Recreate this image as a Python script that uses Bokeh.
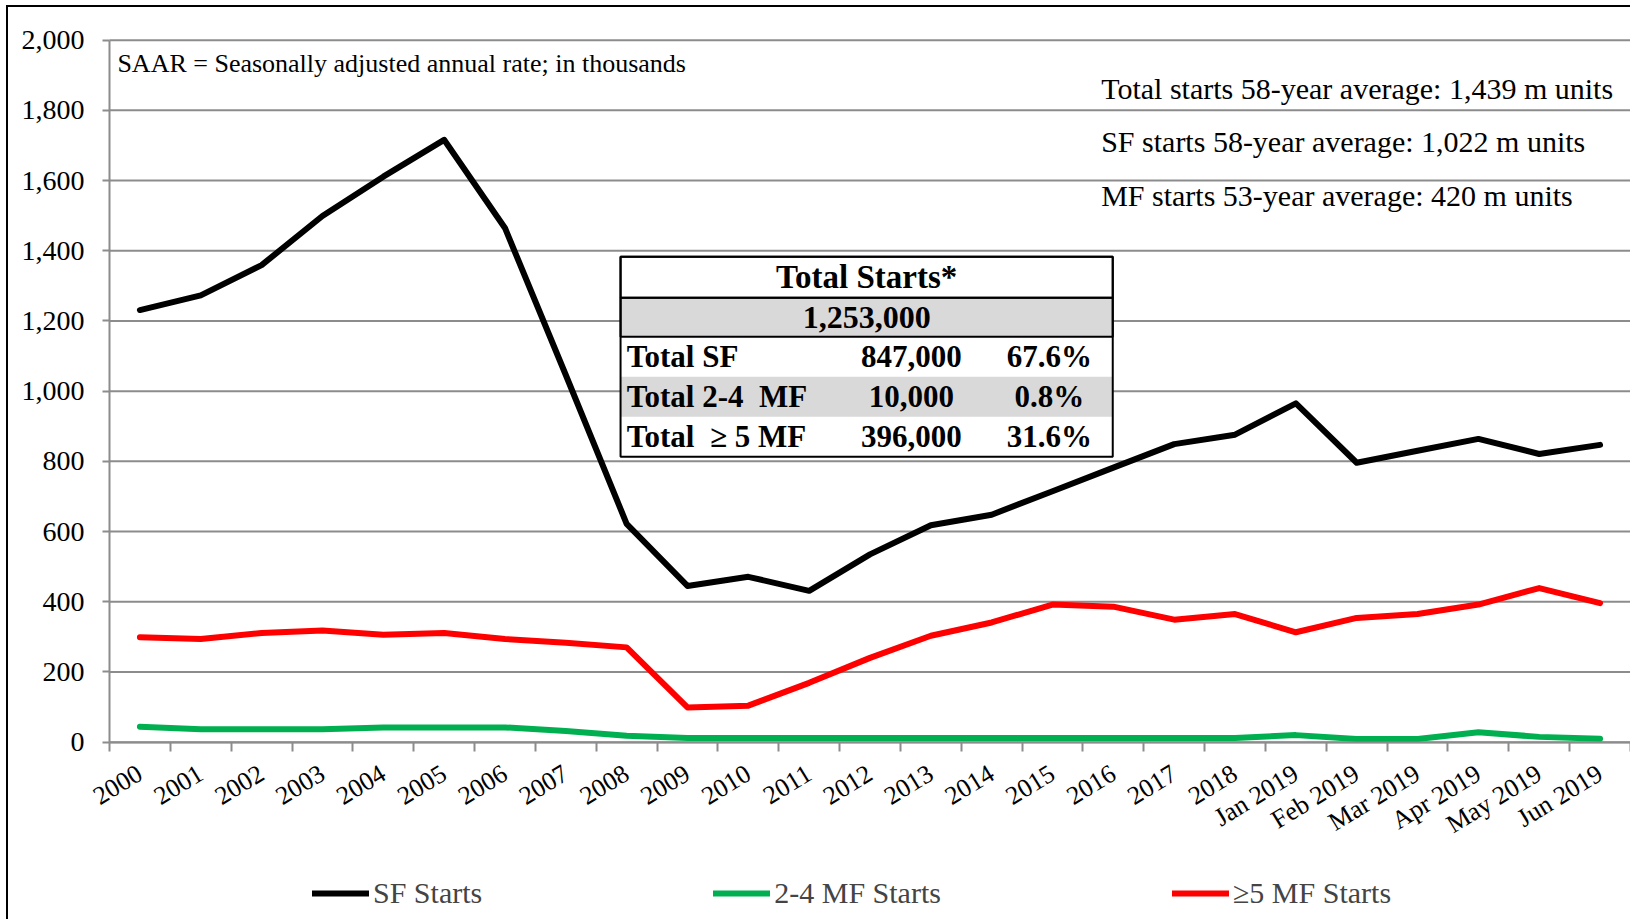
from bokeh.plotting import figure
from bokeh.models import (Range1d, FixedTicker, NumeralTickFormatter, Legend, LegendItem,
                          Label, BoxAnnotation)
from bokeh.embed import file_html
from bokeh.resources import INLINE

# ---------------- data ----------------
categories = ["2000", "2001", "2002", "2003", "2004", "2005", "2006", "2007", "2008",
              "2009", "2010", "2011", "2012", "2013", "2014", "2015", "2016", "2017",
              "2018", "Jan 2019", "Feb 2019", "Mar 2019", "Apr 2019", "May 2019", "Jun 2019"]
sf_starts = [1231, 1273, 1359, 1499, 1611, 1716, 1465, 1046, 622, 445, 471, 431, 535,
             618, 648, 715, 782, 849, 876, 965, 796, 830, 864, 821, 847]
mf24_starts = [44, 37, 37, 37, 42, 42, 42, 32, 18, 12, 12, 12, 12, 12, 12, 12, 12, 12,
               12, 20, 9, 9, 28, 15, 10]
mf5_starts = [299, 294, 311, 318, 306, 311, 294, 283, 270, 99, 104, 169, 240, 303, 341,
              392, 386, 349, 365, 313, 354, 365, 392, 439, 396]
y_ticks = [0, 200, 400, 600, 800, 1000, 1200, 1400, 1600, 1800, 2000]

series_names = ["SF Starts", "2-4 MF Starts", "\u22655 MF Starts"]
series_colors = ["#000000", "#00B050", "#FF0000"]

table_title = "Total Starts*"
table_total = "1,253,000"
table_labels = ["Total SF", "Total 2-4\u00a0 MF", "Total \u00a0\u2265 5 MF"]
table_values = ["847,000", "10,000", "396,000"]
table_pcts = ["67.6%", "0.8%", "31.6%"]

note_text = "SAAR = Seasonally adjusted annual rate; in thousands"
avg_texts = ["Total starts 58-year average: 1,439 m units",
             "SF starts 58-year average: 1,022 m units",
             "MF starts 53-year average: 420 m units"]

FONT = "Liberation Serif"
GRID = "#8c8c8c"

n = len(categories)
xs = [i + 0.5 for i in range(n)]

# the frame covers the whole canvas; both axes are pinned at 0 so that
# the rotated labels, tick labels and the legend are never clipped
p = figure(width=1624, height=914, x_range=Range1d(-1.66, n), y_range=Range1d(-511, 2093),
           output_backend="svg", toolbar_location=None,
           min_border_left=0, min_border_right=2, min_border_top=0, min_border_bottom=0)
p.styles = {"margin-left": "6px", "margin-top": "5px",
            "border-left": "2px solid black", "border-top": "2px solid black"}
p.outline_line_color = None
p.background_fill_color = "white"
p.border_fill_color = "white"

# horizontal gridlines limited to the category span
p.xgrid.grid_line_color = None
p.ygrid.grid_line_color = None
p.segment(x0=[0] * len(y_ticks), x1=[n] * len(y_ticks), y0=y_ticks, y1=y_ticks,
          line_color=GRID, line_width=2, level="underlay")

# y axis
ya = p.yaxis[0]
ya.fixed_location = 0
ya.ticker = FixedTicker(ticks=y_ticks)
ya.bounds = (0, 2000)
ya.formatter = NumeralTickFormatter(format="0,0")
ya.axis_line_color = GRID
ya.axis_line_width = 2
ya.major_tick_line_color = GRID
ya.major_tick_line_width = 2
ya.major_tick_out = 7
ya.major_tick_in = 0
ya.minor_tick_line_color = None
ya.major_label_text_font = FONT
ya.major_label_text_font_size = "28px"
ya.major_label_text_color = "black"
ya.major_label_standoff = 18

# x axis
xa = p.xaxis[0]
xa.fixed_location = 0
xa.bounds = (0, n)
xa.ticker = FixedTicker(ticks=xs, minor_ticks=list(range(n + 1)))
xa.major_label_overrides = {x: c for x, c in zip(xs, categories)}
xa.axis_line_color = GRID
xa.axis_line_width = 2
xa.major_tick_line_color = None
xa.major_tick_out = 0
xa.major_tick_in = 0
xa.minor_tick_line_color = GRID
xa.minor_tick_line_width = 2
xa.minor_tick_out = 9
xa.minor_tick_in = 0
xa.major_label_orientation = 0.55
xa.major_label_text_font = FONT
xa.major_label_text_font_size = "26px"
xa.major_label_text_color = "black"
xa.major_label_standoff = 20

# series
renderers = []
for vals, col in zip([sf_starts, mf24_starts, mf5_starts], series_colors):
    r = p.line(xs, vals, line_color=col, line_width=6, line_join="round", line_cap="round")
    renderers.append(r)

legend = Legend(items=[LegendItem(label=nm, renderers=[r]) for nm, r in zip(series_names, renderers)],
                orientation="horizontal", location=(304, 11))
legend.label_text_font = FONT
legend.label_text_font_size = "30px"
legend.glyph_width = 57
legend.glyph_height = 30
legend.label_standoff = 4
legend.spacing = 231
legend.padding = 0
legend.margin = 0
legend.border_line_color = None
legend.background_fill_alpha = 0
p.add_layout(legend, "center")

# notes
p.add_layout(Label(x=0.13, y=1934, text=note_text, text_font=FONT, text_font_size="26px",
                   text_baseline="middle", text_color="black"))
for txt, yy in zip(avg_texts, [1863, 1712, 1558]):
    p.add_layout(Label(x=16.30, y=yy, text=txt, text_font=FONT, text_font_size="30px",
                       text_baseline="middle", text_color="black"))

# table
TL, TR = 8.40, 16.49
row_edges = [1383, 1266, 1155, 1041, 927, 813]
p.add_layout(BoxAnnotation(left=TL, right=TR, top=row_edges[0], bottom=row_edges[-1],
                           fill_color="white", fill_alpha=1, line_color=None))
p.add_layout(BoxAnnotation(left=TL, right=TR, top=row_edges[1], bottom=row_edges[2],
                           fill_color="#d9d9d9", fill_alpha=1, line_color=None))
p.add_layout(BoxAnnotation(left=TL, right=TR, top=row_edges[3], bottom=row_edges[4],
                           fill_color="#d9d9d9", fill_alpha=1, line_color=None))
for top, bot in [(row_edges[0], row_edges[-1]), (row_edges[0], row_edges[1]), (row_edges[1], row_edges[2])]:
    p.add_layout(BoxAnnotation(left=TL, right=TR, top=top, bottom=bot, fill_alpha=0,
                               line_color="black", line_width=2, line_alpha=1))

def tlabel(x, y, t, align, size="31px"):
    p.add_layout(Label(x=x, y=y, text=t, text_font=FONT, text_font_size=size,
                       text_font_style="bold", text_align=align, text_baseline="middle",
                       text_color="black"))

tlabel((TL + TR) / 2, (row_edges[0] + row_edges[1]) / 2, table_title, "center", "33px")
tlabel((TL + TR) / 2, (row_edges[1] + row_edges[2]) / 2, table_total, "center", "32px")
for i, (lab, val, pct) in enumerate(zip(table_labels, table_values, table_pcts)):
    yc = (row_edges[2 + i] + row_edges[3 + i]) / 2
    tlabel(TL + 0.1, yc, lab, "left")
    tlabel(13.18, yc, val, "center")
    tlabel(15.45, yc, pct, "center")

open("out.html", "w").write(file_html(p, INLINE))
